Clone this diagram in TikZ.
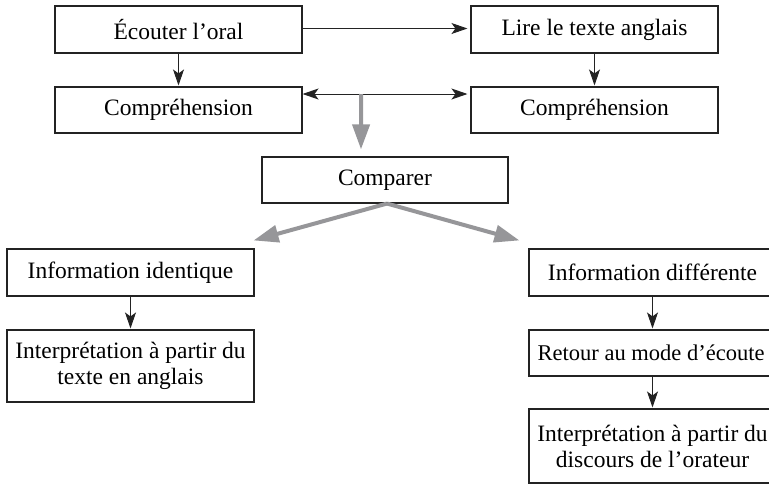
\documentclass[tikz,border=0pt]{standalone}
\usepackage{fontspec}
\setmainfont{Liberation Serif}
\usetikzlibrary{arrows.meta,calc}
\definecolor{arrgray}{RGB}{150,150,153}
\definecolor{ink}{RGB}{35,35,35}
\begin{document}
\begin{tikzpicture}[x=1pt,y=-1pt,
  box/.style={draw=ink,line width=1.1pt,rectangle,minimum width=247pt,minimum height=47pt,
    inner sep=0pt,align=center,text=black,font=\fontsize{23.5}{26}\selectfont},
  blk/.style={draw=ink,line width=1pt,-{Stealth[length=16pt,width=11pt,inset=4pt]}},
  gry/.style={draw=arrgray,line width=4pt,-{Triangle[length=25pt,width=17pt]}}]
\useasboundingbox (0,0) rectangle (769,485);
\node[box] (b1) at (178.5,29.5) {Écouter l’oral};
\node[box] (b2) at (594.5,29.5) {Lire le texte anglais};
\node[box,minimum height=46pt] (b3) at (178.5,110) {Compréhension};
\node[box,minimum height=46pt] (b4) at (594.5,110) {Compréhension};
\node[box,minimum width=246pt,minimum height=46pt] (cmp) at (385,180) {Comparer};
\node[box] (ii) at (130.5,272.5) {Information identique};
\node[box,minimum height=72pt] (il) at (130.5,366) {Interprétation à partir du\\texte en anglais};
\node[box] (id) at (652.5,272.5) {Information différente};
\node[box,minimum height=46pt] (rt) at (652.5,353) {};
\node[font=\fontsize{22.5}{26}\selectfont,inner sep=0pt,anchor=west] (rtt) at ([xshift=-115pt]rt.center) {Retour au mode d’écoute};
\node[box,minimum height=74pt] (ir) at (652.5,446) {Interprétation à partir du\\discours de l’orateur};
% black connectors
\draw[blk,shorten >=3pt] ([yshift=1pt]b1.east) -- ([yshift=1pt]b2.west);
\draw[blk,shorten >=1pt] (b1.south) -- (b3.north);
\draw[blk,shorten >=1pt] (b2.south) -- (b4.north);
\draw[blk,{Stealth[length=16pt,width=11pt,inset=4pt]}-{Stealth[length=16pt,width=11pt,inset=4pt]},shorten >=3pt]
  ([yshift=16pt]b3.east) -- ([yshift=16pt]b4.west);
\draw[blk,shorten >=1pt] (ii.south) -- (il.north);
\draw[blk,shorten >=1pt] (id.south) -- (rt.north);
\draw[blk,shorten >=1pt] (rt.south) -- (ir.north);
% gray connectors
\coordinate (m) at ($([yshift=16pt]b3.east)!0.349!([yshift=16pt]b4.west)$);
\draw[gry] (m) -- ([xshift=-24pt,yshift=7pt]cmp.north);
\draw[gry] ([xshift=2pt]cmp.south) -- ([xshift=-1pt,yshift=8pt]ii.north east);
\draw[gry] ([xshift=2pt]cmp.south) -- ([xshift=-9pt,yshift=8pt]id.north west);
\end{tikzpicture}
\end{document}
